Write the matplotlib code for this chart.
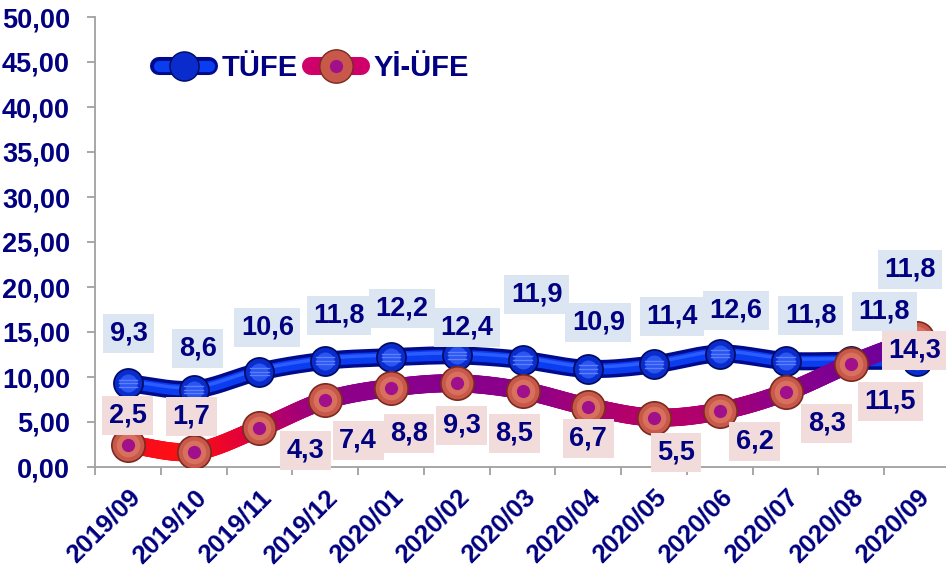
import numpy as np
import matplotlib
matplotlib.use("Agg")
import matplotlib.pyplot as plt
from matplotlib.collections import LineCollection
from matplotlib.lines import Line2D
from matplotlib.legend_handler import HandlerTuple
from matplotlib.colors import LinearSegmentedColormap

categories = ["2019/09", "2019/10", "2019/11", "2019/12", "2020/01", "2020/02", "2020/03",
              "2020/04", "2020/05", "2020/06", "2020/07", "2020/08", "2020/09"]
tufe = [9.3, 8.6, 10.6, 11.8, 12.2, 12.4, 11.9, 10.9, 11.4, 12.6, 11.8, 11.8, 11.8]
yiufe = [2.5, 1.7, 4.3, 7.4, 8.8, 9.3, 8.5, 6.7, 5.5, 6.2, 8.3, 11.5, 14.3]
yticks = [0, 5, 10, 15, 20, 25, 30, 35, 40, 45, 50]

# label offsets (pixels, x right / y down)
tufe_off = [(1, -50), (4, -41), (8, -44), (14, -45), (11, -49), (10, -28), (14, -65),
            (10, -46), (18, -48), (16, -43), (25, -45), (33, -49), (-7, -91)]
yiufe_off = [(0, -29), (-2, -35), (46, 22), (33, 40), (18, 46), (5, 42), (-8, 43),
             (0, 32), (22, 35), (35, 30), (41, 31), (39, 38), (-2, 12)]

NAVY = "#000080"
FS = 19.5
plt.rcParams['font.family'] = ['Liberation Sans', 'DejaVu Sans']

fig = plt.figure(figsize=(9.46, 5.72), dpi=100)
ax = fig.add_axes([95 / 946, 1 - 467 / 572, 855 / 946, 450 / 572])

x = np.arange(len(categories))


def catmull(xs, ys, n=30):
    xs = np.asarray(xs, float)
    ys = np.asarray(ys, float)
    px = np.concatenate([[2 * xs[0] - xs[1]], xs, [2 * xs[-1] - xs[-2]]])
    py = np.concatenate([[2 * ys[0] - ys[1]], ys, [2 * ys[-1] - ys[-2]]])
    ox, oy = [], []
    for i in range(1, len(px) - 2):
        t = np.linspace(0, 1, n, endpoint=False)
        for arr, out in ((px, ox), (py, oy)):
            p0, p1, p2, p3 = arr[i - 1], arr[i], arr[i + 1], arr[i + 2]
            out.extend(0.5 * ((2 * p1) + (-p0 + p2) * t + (2 * p0 - 5 * p1 + 4 * p2 - p3) * t ** 2
                              + (-p0 + 3 * p1 - 3 * p2 + p3) * t ** 3))
    ox.append(xs[-1]); oy.append(ys[-1])
    return np.array(ox), np.array(oy)


# TÜFE line (blue, shaded)
sx, sy = catmull(x, tufe)
ax.plot(sx, sy, color="#000a8c", lw=13, solid_capstyle='round', zorder=3)
ax.plot(sx, sy, color="#0a3cf0", lw=8, solid_capstyle='round', zorder=3)
ax.plot(sx, sy + 0.25, color="#2a5cff", lw=2.5, solid_capstyle='round', zorder=3)
ax.plot(x, tufe, 'o', ms=21, mfc="#0a2ccc", mec="#000a60", mew=1.2, ls='none', zorder=4)
ax.plot(x, tufe, 'o', ms=13, mfc="#2a55f0", mec='none', ls='none', zorder=4)
for xi, yi in zip(x, tufe):
    for dy in (-0.4, 0.0, 0.4):
        ax.plot([xi - 0.14, xi + 0.14], [yi + dy, yi + dy], color="#5a80ff", lw=1.0, zorder=4.1)

# Yİ-ÜFE line (vertical gradient: red at bottom -> purple at top)
rx, ry = catmull(x, yiufe)
pts = np.column_stack([rx, ry]).reshape(-1, 1, 2)
segs = np.concatenate([pts[:-1], pts[1:]], axis=1)
cmap = LinearSegmentedColormap.from_list(
    "g", [(0.0, "#ff7000"), (0.1, "#ff1010"), (0.28, "#e0003c"), (0.4, "#b4006a"),
          (0.57, "#900088"), (1.0, "#6a009a")])
lc = LineCollection(segs, cmap=cmap, norm=plt.Normalize(0, 14),
                    linewidths=13, capstyle='round', zorder=5)
lc.set_array((ry[:-1] + ry[1:]) / 2)
ax.add_collection(lc)
ax.plot(x, yiufe, 'o', ms=24, mfc="#c8584a", mec="#7a2a20", mew=1.2, ls='none', zorder=6)
ax.plot(x, yiufe, 'o', ms=17, mfc="#d8705e", mec='none', ls='none', zorder=6)
ax.plot(x, yiufe, 'o', ms=9.5, mfc="#a0108a", mec='none', ls='none', zorder=6.1)

# data labels
for xi, yi, (dx, dy) in zip(x, tufe, tufe_off):
    ax.annotate(f"{yi:.1f}".replace('.', ','), (xi, yi), xytext=(dx, -dy), textcoords='offset pixels',
                ha='center', va='center', fontsize=FS, fontweight='bold', color=NAVY, zorder=8,
                bbox=dict(boxstyle='square,pad=0.24', fc='#dce6f2', ec='none'))
for xi, yi, (dx, dy) in zip(x, yiufe, yiufe_off):
    ax.annotate(f"{yi:.1f}".replace('.', ','), (xi, yi), xytext=(dx, -dy), textcoords='offset pixels',
                ha='center', va='center', fontsize=FS, fontweight='bold', color=NAVY, zorder=8,
                bbox=dict(boxstyle='square,pad=0.24', fc='#f2dcdb', ec='none'))

ax.set_xlim(-0.5, len(categories) - 0.5)
ax.set_ylim(0, 50)
ax.set_yticks(yticks)
ax.set_yticklabels([f"{v:.2f}".replace('.', ',') for v in yticks])
ax.set_xticks(x)
ax.set_xticklabels(categories, rotation=45, ha='right', rotation_mode='anchor')
ax.set_xticks(np.arange(-0.5, len(categories), 1), minor=True)
ax.tick_params(axis='x', which='major', length=0, pad=13)
ax.tick_params(axis='x', which='minor', length=5.5, width=1.3, color='#a0a0a0', direction='out')
ax.tick_params(axis='y', length=6, width=1.3, color='#a0a0a0', pad=12)
for lab in ax.get_yticklabels():
    lab.set_fontsize(FS)
    lab.set_fontweight('bold')
    lab.set_color(NAVY)
for lab in ax.get_xticklabels():
    lab.set_fontsize(18.5)
    lab.set_fontweight('bold')
    lab.set_color(NAVY)
for s in ('top', 'right'):
    ax.spines[s].set_visible(False)
for s in ('left', 'bottom'):
    ax.spines[s].set_color('#a0a0a0')
    ax.spines[s].set_linewidth(1.3)

# legend
h1 = (Line2D([], [], color="#000a8c", lw=13, solid_capstyle='round'),
      Line2D([], [], color="#0a3cf0", lw=8, solid_capstyle='round'),
      Line2D([], [], ls='none', marker='o', ms=21, mfc="#0a2ccc", mec="#000a60"))
h2 = (Line2D([], [], color="#d0006a", lw=13, solid_capstyle='round'),
      Line2D([], [], ls='none', marker='o', ms=24, mfc="#c8584a", mec="#7a2a20"),
      Line2D([], [], ls='none', marker='o', ms=9.5, mfc="#a0108a", mec='none'))
leg = ax.legend([h1, h2], ["TÜFE", "Yİ-ÜFE"], handler_map={tuple: HandlerTuple(ndivide=1)},
                loc='center left', bbox_to_anchor=(0.075, 0.887), ncol=2, frameon=False,
                handlelength=1.7, handletextpad=0.45, columnspacing=0.45, borderpad=0, borderaxespad=0,
                prop=dict(size=21, weight='bold'))
for t in leg.get_texts():
    t.set_color(NAVY)

fig.savefig("out.png", dpi=100)
